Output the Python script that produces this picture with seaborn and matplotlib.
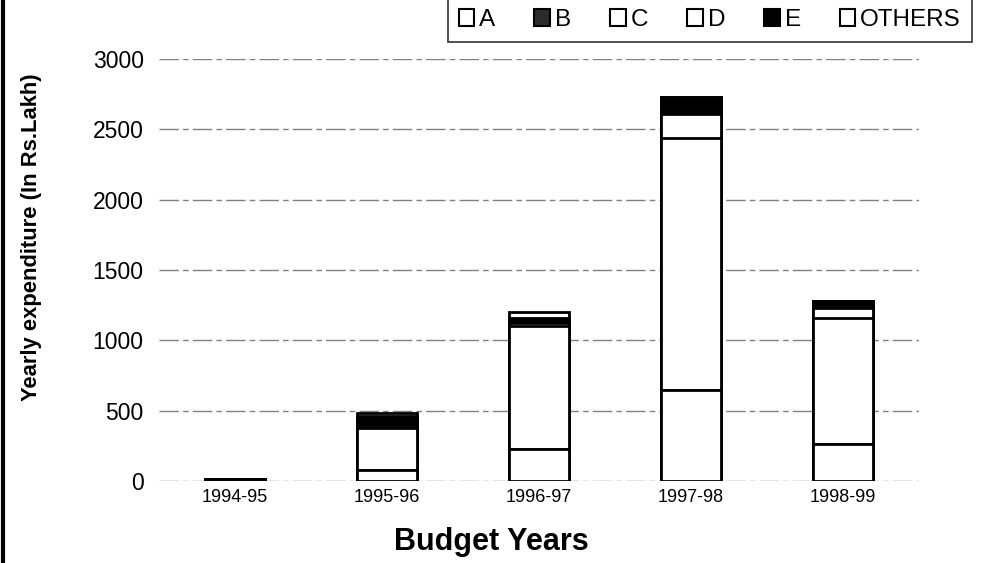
import matplotlib
matplotlib.use("Agg")
import matplotlib.pyplot as plt
from matplotlib.patches import Patch
from matplotlib.lines import Line2D
import numpy as np
import pandas as pd
import seaborn as sns

# budget years and expenditure per head (Rs. Lakh)
years = ["1994-95", "1995-96", "1996-97", "1997-98", "1998-99"]
A = [5, 80, 225, 645, 265]
B = [0, 0, 0, 0, 0]
C = [5, 295, 875, 1792, 892]
D = [0, 0, 25, 171, 76]
E = [3, 90, 35, 125, 50]
OTHERS = [0, 20, 40, 0, 0]

heads = ["A", "B", "C", "D", "E", "OTHERS"]
head_colors = ["white", "#2b2b2b", "white", "white", "black", "white"]
yticks = [0, 500, 1000, 1500, 2000, 2500, 3000]

df = pd.DataFrame({"year": years, "A": A, "B": B, "C": C, "D": D, "E": E, "OTHERS": OTHERS})

sns.set_style("white")
plt.rcParams["font.family"] = ["Liberation Sans", "DejaVu Sans"]
plt.rcParams["text.color"] = "black"
plt.rcParams["axes.labelcolor"] = "black"
plt.rcParams["xtick.color"] = "black"
plt.rcParams["ytick.color"] = "black"

fig = plt.figure(figsize=(9.89, 5.63), dpi=100)
ax = fig.add_axes([159 / 989, 1 - 481 / 563, (919 - 159) / 989, (481 - 59) / 563])

# stacked bars: draw cumulative totals from the top layer down
cum = df[heads].cumsum(axis=1)
for head, color in reversed(list(zip(heads, head_colors))):
    sns.barplot(x=df["year"], y=cum[head], color=color, edgecolor="black",
                linewidth=2, width=0.4, saturation=1, ax=ax, zorder=3)

ax.set_ylim(0, 3000)
ax.set_xlim(-0.5, 4.5)
ax.set_yticks(yticks)
ax.yaxis.grid(True, color="#808080", linestyle=(0, (14, 3, 4, 3)), linewidth=1)
ax.set_axisbelow(True)
for s in ax.spines.values():
    s.set_visible(False)

ax.tick_params(axis="y", length=0, labelsize=16.5, pad=11)
ax.tick_params(axis="x", length=0, labelsize=13, pad=6)
ax.set_xticks(np.arange(-0.5, 5, 1), minor=True)
ax.tick_params(axis="x", which="minor", length=4, color="#444444", width=1)

ax.set_xlabel("Budget Years", fontsize=22, fontweight="bold")
ax.xaxis.set_label_coords((491 - 159) / 760, -0.108)
ax.set_ylabel("Yearly expenditure (In Rs.Lakh)", fontsize=15.8, fontweight="bold")
ax.yaxis.set_label_coords(-0.154, 0.578)

handles = [Patch(facecolor=c, edgecolor="black", linewidth=1.5) for c in head_colors]
leg = fig.legend(handles, heads, loc="lower right", bbox_to_anchor=(972 / 989, 1 - 42 / 563),
                 ncol=6, fontsize=17.5, frameon=True, fancybox=False, borderaxespad=0,
                 handlelength=0.65, handleheight=0.65, handletextpad=0.2, columnspacing=1.6,
                 borderpad=0.45)
leg.get_frame().set_edgecolor("black")
leg.get_frame().set_linewidth(1.2)

# scanned page border on the left
fig.add_artist(Line2D([0.003, 0.003], [0, 1], color="black", linewidth=3, transform=fig.transFigure))

fig.savefig("out.png", dpi=100, facecolor="white")
